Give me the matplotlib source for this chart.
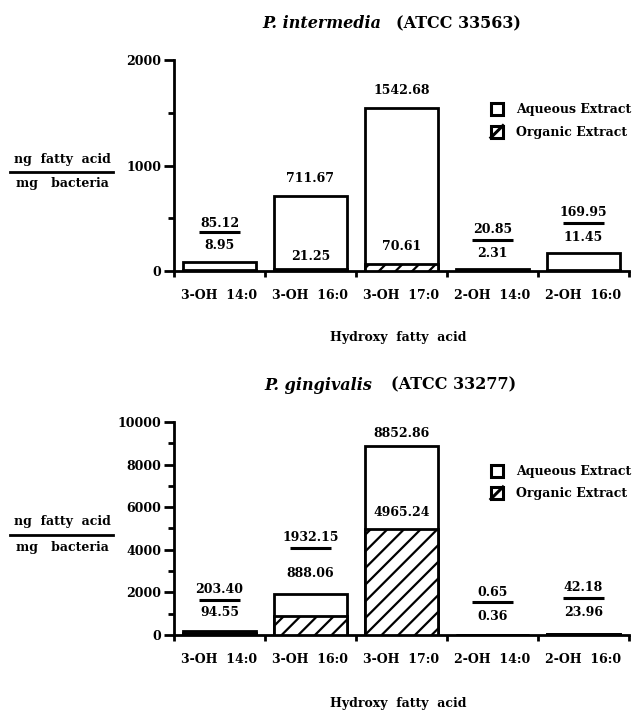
import matplotlib
matplotlib.use("Agg")
import matplotlib.pyplot as plt
from matplotlib.patches import Patch, Rectangle
from matplotlib.lines import Line2D
from matplotlib.legend_handler import HandlerBase
from matplotlib.ticker import MultipleLocator

plt.rcParams['font.family'] = ['DejaVu Serif']
plt.rcParams['font.weight'] = 'bold'
plt.rcParams['hatch.linewidth'] = 1.6

categories = ["3-OH  14:0", "3-OH  16:0", "3-OH  17:0", "2-OH  14:0", "2-OH  16:0"]

# P. intermedia (ATCC 33563)
inter_aqueous = [85.12, 711.67, 1542.68, 20.85, 169.95]
inter_organic = [8.95, 21.25, 70.61, 2.31, 11.45]

# P. gingivalis (ATCC 33277)
ging_aqueous = [203.40, 1932.15, 8852.86, 0.65, 42.18]
ging_organic = [94.55, 888.06, 4965.24, 0.36, 23.96]

# label layout: (upper text y, divider y or None, lower text y) in data units
inter_label_y = [(453, 368, 245), (881, None, 141), (1707, None, 236),
                 (396, 292, 170), (556, 453, 321)]
ging_label_y = [(2157, 1640, 1079), (4596, 4080, 2908), (9474, None, 5769),
                (2016, 1548, 891), (2251, 1735, 1079)]

fig = plt.figure(figsize=(6.34, 7.11), dpi=100)
ax_top = fig.add_axes([0.2744, 0.6188, 0.7177, 0.2968])
ax_bot = fig.add_axes([0.2744, 0.1069, 0.7177, 0.2996])

LW = 2.0
FS = 9


def draw_panel(ax, aqueous, organic, label_y, ymax, major, minor):
    x = range(len(categories))
    ax.bar(x, aqueous, width=0.8, facecolor='white', edgecolor='black',
           linewidth=LW, zorder=2)
    ax.bar(x, organic, width=0.8, facecolor='white', edgecolor='black',
           linewidth=LW, hatch='//', zorder=3)
    for i, (a, o) in enumerate(zip(aqueous, organic)):
        ytop, yline, ybot = label_y[i]
        ax.text(i, ytop, f"{a:.2f}", ha='center', va='center',
                fontsize=FS, fontweight='bold', zorder=5, clip_on=False)
        if yline is not None:
            ax.plot([i - 0.23, i + 0.23], [yline, yline], color='black',
                    linewidth=2.2, solid_capstyle='butt', zorder=5)
        ax.text(i, ybot, f"{o:.2f}", ha='center', va='center',
                fontsize=FS, fontweight='bold', zorder=5,
                bbox=dict(facecolor='white', edgecolor='none', pad=0.5))
    ax.set_xlim(-0.5, len(categories) - 0.5)
    ax.set_ylim(0, ymax)
    ax.set_xticks([i + 0.5 for i in range(-1, len(categories))])
    ax.set_xticklabels([])
    ax.set_xticks(list(x), minor=True)
    ax.set_xticklabels(categories, minor=True, fontsize=FS, fontweight='bold')
    ax.tick_params(axis='x', which='major', direction='out', length=4, width=LW)
    ax.tick_params(axis='x', which='minor', length=0, pad=13)
    ax.yaxis.set_major_locator(MultipleLocator(major))
    ax.yaxis.set_minor_locator(MultipleLocator(minor))
    ax.tick_params(axis='y', which='major', direction='out', length=7, width=LW,
                   labelsize=FS, pad=2)
    ax.tick_params(axis='y', which='minor', direction='out', length=4, width=LW)
    for lbl in ax.get_yticklabels():
        lbl.set_fontweight('bold')
    for s in ('top', 'right'):
        ax.spines[s].set_visible(False)
    for s in ('left', 'bottom'):
        ax.spines[s].set_linewidth(LW)


draw_panel(ax_top, inter_aqueous, inter_organic, inter_label_y, 2000, 1000, 500)
draw_panel(ax_bot, ging_aqueous, ging_organic, ging_label_y, 10000, 2000, 1000)


def title(y, species, strain, x_species_end, x_strain_start):
    fig.text(x_species_end / 634, y, species, ha='right', va='center',
             fontsize=11.5, fontweight='bold', fontstyle='italic')
    fig.text(x_strain_start / 634, y, strain, ha='left', va='center',
             fontsize=11.5, fontweight='bold')


title(1 - 24 / 711, "P. intermedia", "(ATCC 33563)", 381, 396)
title(1 - 385 / 711, "P. gingivalis", "(ATCC 33277)", 372, 391)

# y-axis labels written as a fraction
for ytxt_top, yline in ((160, 172), (522, 535)):
    fig.text(0.098, 1 - ytxt_top / 711, "ng  fatty  acid", ha='center',
             va='center', fontsize=FS, fontweight='bold')
    fig.text(0.098, 1 - (2 * yline - ytxt_top) / 711, "mg   bacteria",
             ha='center', va='center', fontsize=FS, fontweight='bold')
    fig.add_artist(Line2D([10 / 634, 113 / 634],
                          [1 - yline / 711, 1 - yline / 711],
                          color='black', linewidth=2.0))

# x-axis labels
fig.text(398 / 634, 1 - 338 / 711, "Hydroxy  fatty  acid", ha='center',
         va='center', fontsize=FS, fontweight='bold')
fig.text(398 / 634, 1 - 703 / 711, "Hydroxy  fatty  acid", ha='center',
         va='center', fontsize=FS, fontweight='bold')


class BoxHandler(HandlerBase):
    """Square legend key, optionally crossed by one diagonal stroke."""

    def __init__(self, diagonal):
        super().__init__()
        self.diagonal = diagonal

    def create_artists(self, legend, orig_handle, xdescent, ydescent,
                       width, height, fontsize, trans):
        side = min(width, height)
        x0 = -xdescent + (width - side) / 2
        y0 = -ydescent + (height - side) / 2
        arts = [Rectangle((x0, y0), side, side, facecolor='white',
                          edgecolor='black', linewidth=2.2, transform=trans)]
        if self.diagonal:
            arts.append(Line2D([x0, x0 + side], [y0, y0 + side],
                               color='black', linewidth=2.2, transform=trans))
        return arts


aq_handle = Patch(facecolor='white', edgecolor='black', label='Aqueous Extract')
org_handle = Patch(facecolor='white', edgecolor='black', hatch='/',
                   label='Organic Extract')
for ax, ytop, spacing in ((ax_top, 103, 0.75), (ax_bot, 465, 0.7)):
    ax.legend(handles=[aq_handle, org_handle], loc='upper left',
              handler_map={aq_handle: BoxHandler(False),
                           org_handle: BoxHandler(True)},
              bbox_to_anchor=(490 / 634, 1 - ytop / 711),
              bbox_transform=fig.transFigure, frameon=False,
              handlelength=1.1, handleheight=1.1, handletextpad=1.0,
              labelspacing=spacing, prop={'size': FS, 'weight': 'bold'},
              borderaxespad=0, borderpad=0)

fig.savefig("out.png", dpi=100)
